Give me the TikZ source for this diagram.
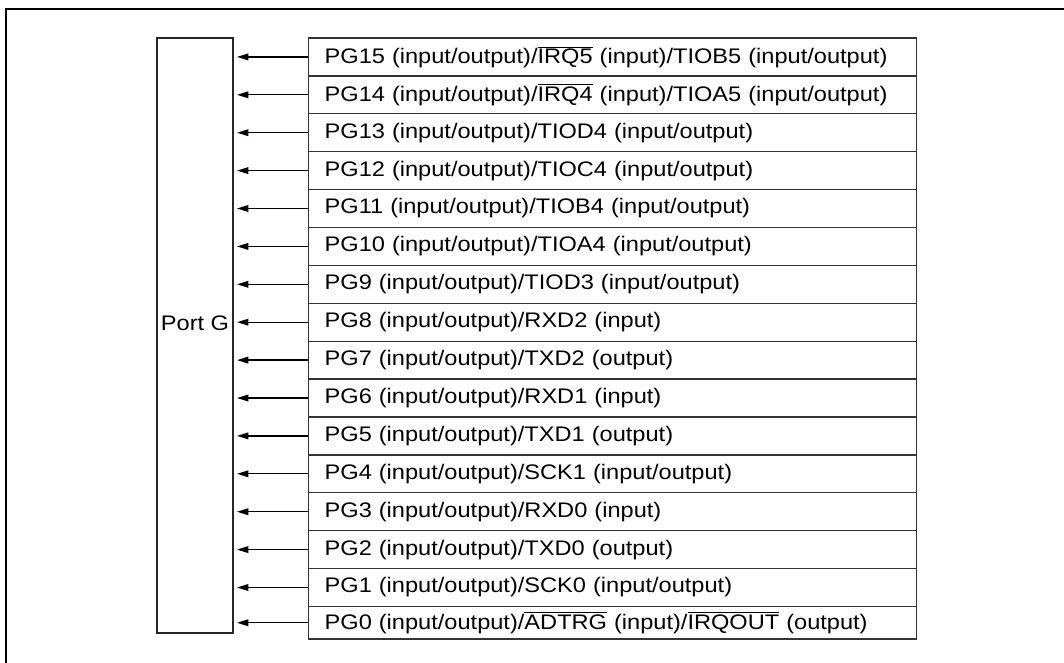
\documentclass[tikz,border=0pt]{standalone}
\usepackage{fontspec}
\setmainfont[FakeStretch=1.12]{Liberation Sans}
\usetikzlibrary{arrows.meta}
\newcommand\ovl[1]{$\overline{\hbox{#1}}$}
\begin{document}
\begin{tikzpicture}[x=0.75pt,y=-0.75pt,
  txt/.style={font=\fontsize{15.8}{18}\selectfont},
  rowbox/.style={draw=black!80,line width=1pt,rectangle,anchor=north west,
    inner xsep=12pt,inner ysep=0pt,text width=432pt,align=left,
    minimum width=456pt,txt},
  portbox/.style={draw=black!85,line width=1pt,rectangle,minimum width=57pt,
    minimum height=446.25pt,inner sep=0pt},
  arr/.style={line width=1pt,-{Triangle[length=8.5pt,width=5pt]}},
  frame/.style={line width=1.9pt,line cap=rect}]
\useasboundingbox (0,0) rectangle (1064,663);
\draw[frame] (1064,9) -- (6,9) -- (6,663);
\node[portbox] (port) at (195,335.5) {};
\node[txt,inner sep=0pt] (portlabel) at (195,323.5) {Port G};
\foreach \lbl [count=\n from 0] in {
  {PG15 (input/output)/\ovl{IRQ5} (input)/TIOB5 (input/output)},
  {PG14 (input/output)/\ovl{IRQ4} (input)/TIOA5 (input/output)},
  {PG13 (input/output)/TIOD4 (input/output)},
  {PG12 (input/output)/TIOC4 (input/output)},
  {PG11 (input/output)/TIOB4 (input/output)},
  {PG10 (input/output)/TIOA4 (input/output)},
  {PG9 (input/output)/TIOD3 (input/output)},
  {PG8 (input/output)/RXD2 (input)},
  {PG7 (input/output)/TXD2 (output)},
  {PG6 (input/output)/RXD1 (input)},
  {PG5 (input/output)/TXD1 (output)},
  {PG4 (input/output)/SCK1 (input/output)},
  {PG3 (input/output)/RXD0 (input)},
  {PG2 (input/output)/TXD0 (output)},
  {PG1 (input/output)/SCK0 (input/output)},
  {PG0 (input/output)/\ovl{ADTRG} (input)/\ovl{IRQOUT} (output)}}{
  \pgfmathsetmacro\h{\n==15 ? 32.6 : 37.9}
  \pgfmathsetmacro\top{37.3+37.9*\n}
  \node[rowbox,minimum height=\h*0.75pt] (row\n) at (308,\top) {\lbl};
  \draw[arr] (row\n.west) -- ([xshift=2.5pt]row\n.west -| port.east);
}
\end{tikzpicture}
\end{document}
